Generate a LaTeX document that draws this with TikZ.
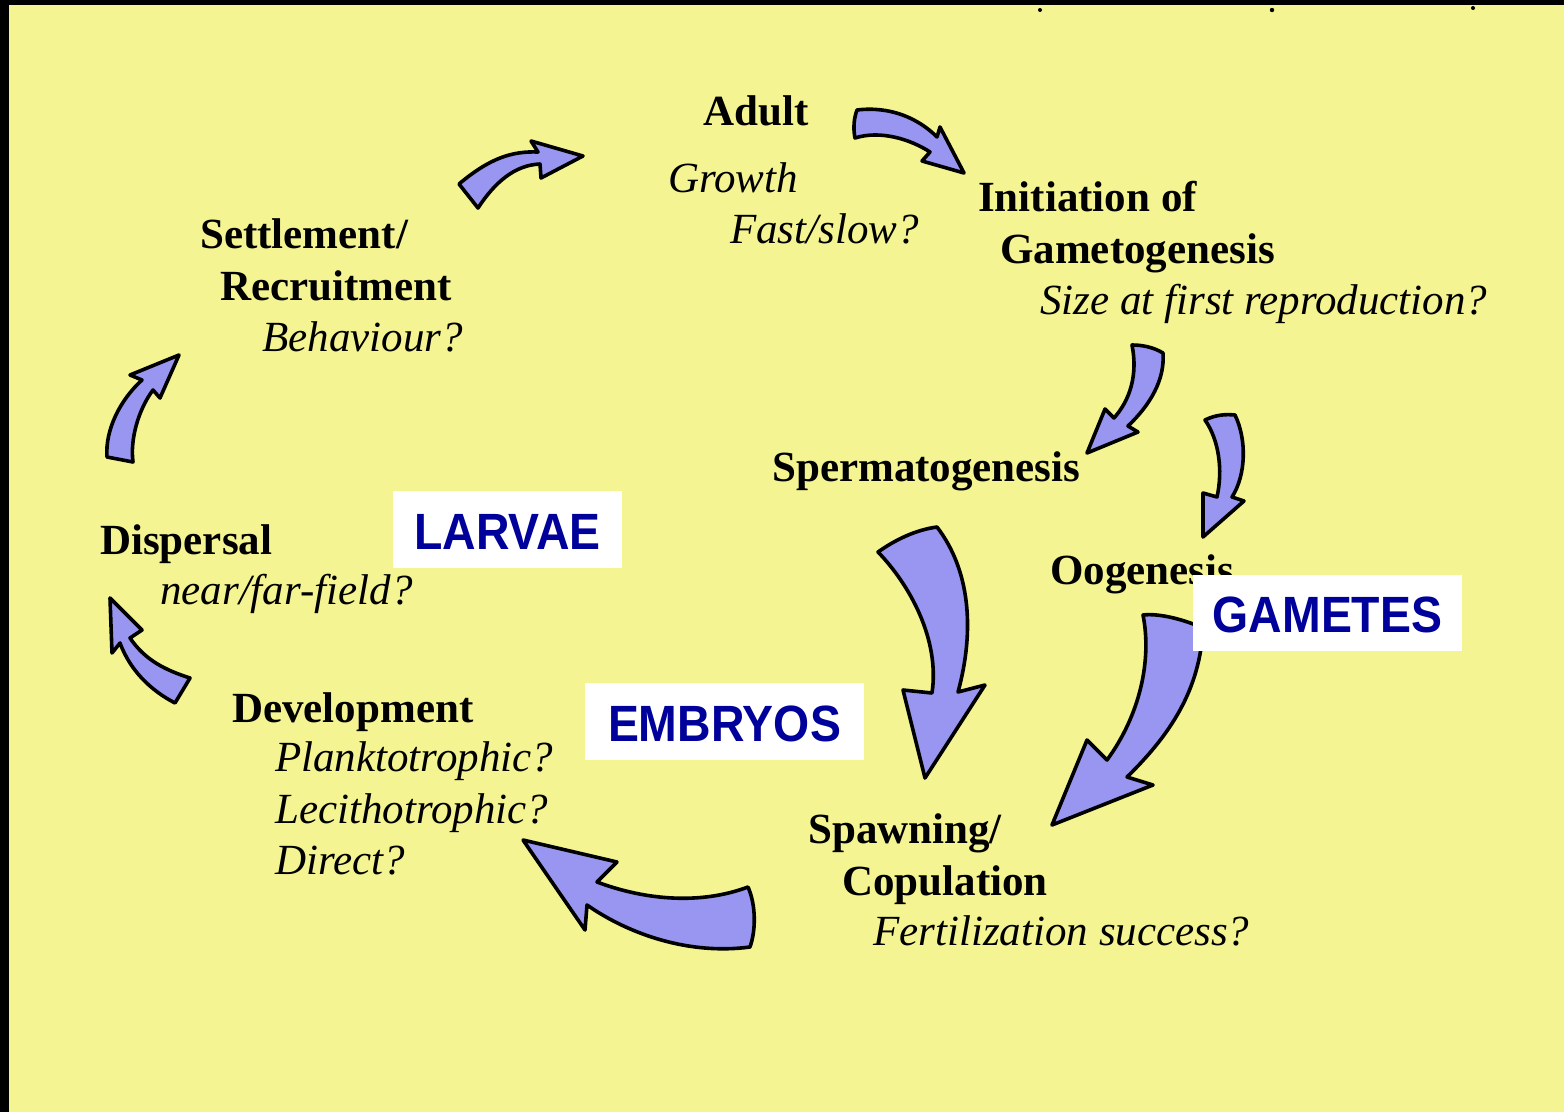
\documentclass[tikz,border=0pt]{standalone}
\usepackage{fontspec}
\setmainfont{Liberation Serif}
\newfontfamily\labfont{Liberation Sans}
\definecolor{bgyellow}{RGB}{244,244,146}
\definecolor{lav}{RGB}{152,150,240}
\definecolor{navy}{RGB}{0,0,155}
\begin{document}
\begin{tikzpicture}[x=1pt,y=-1pt,
  bt/.style={anchor=base west,inner sep=0pt,font=\fontsize{43}{43}\selectfont\bfseries},
  it/.style={anchor=base west,inner sep=0pt,font=\fontsize{43}{43}\selectfont\itshape},
  bigarrow/.style={fill=lav,draw=black,line width=3.6pt,line join=round},
  labbox/.style={fill=white,draw=none},
  labtext/.style={anchor=base,inner sep=0pt,text=navy,font=\labfont\fontsize{51}{51}\selectfont\bfseries}]
\useasboundingbox (0,0) rectangle (1564,1112);
\fill[bgyellow] (0,0) rectangle (1564,1112);
\fill[black] (0,0) rectangle (1564,5);
\fill[black] (0,0) rectangle (9,1112);
\fill[black] (1040,10) circle (2);
\fill[black] (1272,10) circle (2.2);
\fill[black] (1473,8) circle (2);

% arrows
\draw[bigarrow] (459,184) .. controls (490,158) and (512,151) .. (538,152) -- (531,141) -- (583,156) -- (541,178) -- (540,164) .. controls (515,165) and (495,182) .. (478,208) -- cycle;
\draw[bigarrow] (857,110) .. controls (890,106) and (918,118) .. (937,137) -- (940,127) -- (964,173) -- (922,161) -- (930,152) .. controls (910,139) and (880,130) .. (855,138) .. controls (853,128) and (854,118) .. cycle;
\draw[bigarrow] (1132,345) .. controls (1138,375) and (1130,400) .. (1114,418) -- (1105,409) -- (1087,453) -- (1138,432) -- (1128,426) .. controls (1150,405) and (1165,380) .. (1163,353) .. controls (1153,347) and (1142,345) .. cycle;
\draw[bigarrow] (1205,420) .. controls (1215,415) and (1225,414) .. (1235,415) .. controls (1247,440) and (1246,475) .. (1232,497) -- (1244,501) -- (1203,537) -- (1203,493) -- (1217,497) .. controls (1223,470) and (1219,440) .. cycle;
\draw[bigarrow] (878,552) .. controls (910,585) and (940,640) .. (932,693) -- (903,690) -- (925,778) -- (985,685) -- (958,692) .. controls (975,630) and (970,570) .. (937,527) .. controls (915,530) and (895,540) .. cycle;
\draw[bigarrow] (1143,615) .. controls (1152,660) and (1140,715) .. (1107,760) -- (1087,740) -- (1052,825) -- (1153,785) -- (1127,777) .. controls (1170,735) and (1200,690) .. (1203,628) .. controls (1185,620) and (1160,613) .. cycle;
\draw[bigarrow] (523,840) -- (617,862) -- (597,882) .. controls (645,900) and (700,905) .. (748,887) .. controls (756,905) and (756,930) .. (750,947) .. controls (690,955) and (630,935) .. (587,905) -- (585,930) -- cycle;
\draw[bigarrow] (107,457) .. controls (105,430) and (120,400) .. (142,380) -- (130,375) -- (179,355) -- (160,398) -- (153,390) .. controls (138,410) and (130,440) .. (133,462) -- cycle;
\draw[bigarrow] (110,598) -- (142,630) -- (130,638) .. controls (145,660) and (165,670) .. (190,678) -- (175,703) .. controls (150,690) and (130,670) .. (120,643) -- (112,653) -- cycle;

% texts
\node[bt] (adult) at (703,125) {Adult};
\node[it] (growth) at (668,192) {Growth};
\node[it] (fast) at (730,243) {Fast/slow?};
\node[bt] (init) at (978,211) {Initiation of};
\node[bt] (gameto) at (1000,263) {Gametogenesis};
\node[it] (size) at (1040,314) {Size at first reproduction?};
\node[bt] (settle) at (200,248) {Settlement/};
\node[bt] (recruit) at (220,300) {Recruitment};
\node[it] (behav) at (262,351) {Behaviour?};
\node[bt] (sperm) at (772,481) {Spermatogenesis};
\node[bt] (disp) at (100,554) {Dispersal};
\node[it] (near) at (160,604) {near/far-field?};
\node[bt] (oog) at (1050,584) {Oogenesis};
\node[bt] (devel) at (232,722) {Development};
\node[it] (plank) at (275,771) {Planktotrophic?};
\node[it] (leci) at (275,823) {Lecithotrophic?};
\node[it] (direct) at (275,874) {Direct?};
\node[bt] (spawn) at (808,843) {Spawning/};
\node[bt] (copul) at (842,895) {Copulation};
\node[it] (fert) at (873,945) {Fertilization success?};

% label boxes
\fill[labbox] (393,491) rectangle (622,568);
\node[labtext] (larvae) at (507.5,549) {\scalebox{0.91}[1]{LARVAE}};
\fill[labbox] (1193,575) rectangle (1462,651);
\node[labtext] (gametes) at (1327.5,632) {\scalebox{0.91}[1]{GAMETES}};
\fill[labbox] (585,683) rectangle (864,760);
\node[labtext] (embryos) at (724.5,741) {\scalebox{0.91}[1]{EMBRYOS}};
\end{tikzpicture}
\end{document}
